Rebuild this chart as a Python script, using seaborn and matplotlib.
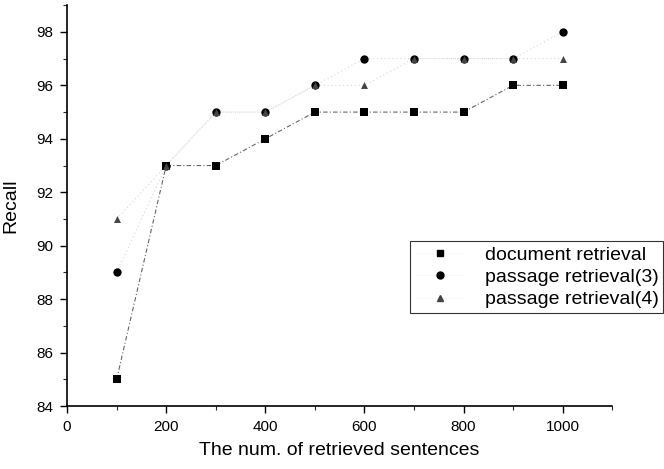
import matplotlib
matplotlib.use("Agg")
import matplotlib.pyplot as plt
import seaborn as sns
import pandas as pd
from matplotlib.lines import Line2D
from matplotlib.ticker import MultipleLocator

sns.set_style("ticks")
plt.rcParams['font.family'] = ['Liberation Sans', 'DejaVu Sans']
plt.rcParams['text.color'] = 'black'
plt.rcParams['axes.labelcolor'] = 'black'

x_vals = [100, 200, 300, 400, 500, 600, 700, 800, 900, 1000]
doc_retrieval = [85, 93, 93, 94, 95, 95, 95, 95, 96, 96]
passage3 = [89, 93, 95, 95, 96, 97, 97, 97, 97, 98]
passage4 = [91, 93, 95, 95, 96, 96, 97, 97, 97, 97]
series_names = ["document retrieval", "passage retrieval(3)", "passage retrieval(4)"]

fig = plt.figure(figsize=(6.64, 4.69), dpi=100)
ax = fig.add_axes([0.101, 0.134, 0.821, 0.855])

styles = [
    dict(marker="s", ms=6, color="black", lc="#666666", ls=(0, (4, 2, 1, 2)), lw=0.8),
    dict(marker="o", ms=6, color="black", lc="#cccccc", ls=(0, (1, 3)), lw=0.7),
    dict(marker="^", ms=5, color="#444444", lc="#cccccc", ls=(0, (1, 3)), lw=0.7),
]
for name, vals, st in zip(series_names, [doc_retrieval, passage3, passage4], styles):
    df = pd.DataFrame({"x": x_vals, "y": vals})
    sns.lineplot(data=df, x="x", y="y", ax=ax, color=st["lc"], linestyle=st["ls"],
                 linewidth=st["lw"], legend=False, zorder=1)
    sns.scatterplot(data=df, x="x", y="y", ax=ax, marker=st["marker"], s=st["ms"] ** 2,
                    color=st["color"], edgecolor=st["color"], linewidth=0, legend=False, zorder=3)

ax.set_xlim(0, 1100)
ax.set_ylim(84, 99)
ax.xaxis.set_major_locator(MultipleLocator(200))
ax.xaxis.set_minor_locator(MultipleLocator(100))
ax.yaxis.set_major_locator(MultipleLocator(2))
ax.yaxis.set_minor_locator(MultipleLocator(1))
ax.set_xticks([0, 200, 400, 600, 800, 1000])
ax.tick_params(which="major", direction="out", length=5, width=1, labelsize=11, colors="black", pad=5)
ax.tick_params(which="minor", direction="out", length=3, width=0.8)
for sp in ["top", "right"]:
    ax.spines[sp].set_visible(False)
for sp in ["left", "bottom"]:
    ax.spines[sp].set_linewidth(1.2)
    ax.spines[sp].set_color("black")

ax.set_xlabel("The num. of retrieved sentences", fontsize=14, labelpad=6, color="black")
ax.set_ylabel("Recall", fontsize=14, labelpad=12, color="black")

handles = [
    Line2D([], [], marker=st["marker"], ms=st["ms"] - 1, color="#dddddd", markerfacecolor=st["color"],
           markeredgecolor=st["color"], linestyle=(0, (1, 3)), lw=0.5)
    for st in styles
]
leg = fig.legend(handles, series_names, loc="upper left", bbox_to_anchor=(0.617, 0.486),
                 frameon=True, fancybox=False, edgecolor="black", fontsize=14,
                 handlelength=2.6, labelspacing=0.25, borderpad=0.25, handletextpad=1.0,
                 borderaxespad=0)
leg.get_frame().set_linewidth(0.8)
for t in leg.get_texts():
    t.set_color("black")

fig.savefig("out.png", dpi=100)
